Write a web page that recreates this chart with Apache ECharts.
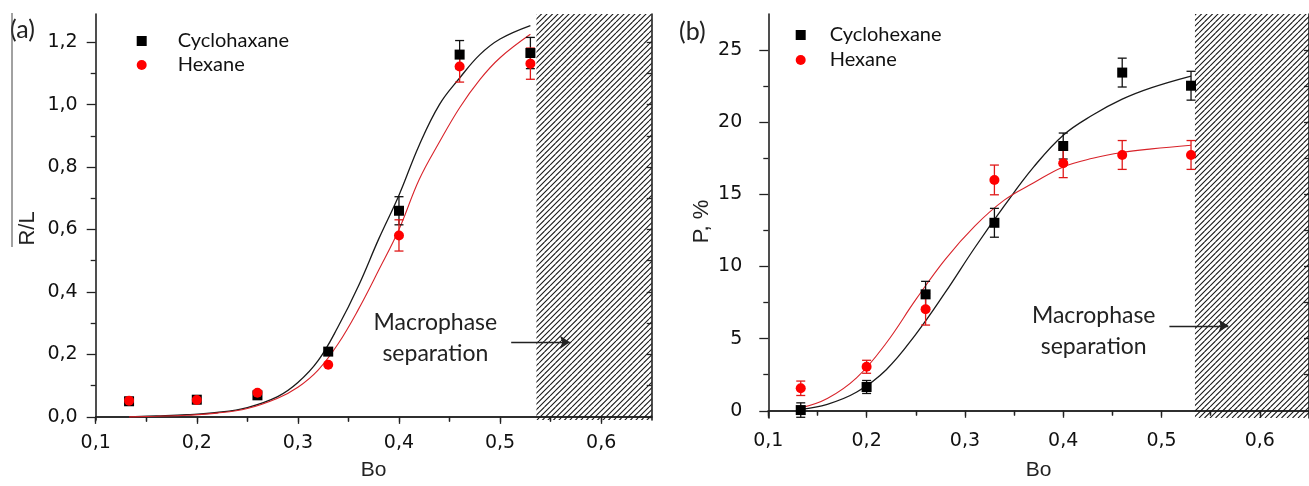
<!DOCTYPE html>
<html>
<head>
<meta charset="utf-8">
<script src="https://cdn.jsdelivr.net/npm/echarts@6/dist/echarts.min.js"></script>
<style>
  html, body { margin: 0; padding: 0; background: #fff; }
  #chart { width: 1309px; height: 486px; }
</style>
</head>
<body>
<div id="chart"></div>
<script>
var myChart = echarts.init(document.getElementById('chart'));

// measured points (both panels share the same Bo values)
var bo = [0.133, 0.2, 0.26, 0.33, 0.4, 0.46, 0.53];

// (a) R/L
var rlCyclo = [0.05, 0.055, 0.069, 0.209, 0.66, 1.16, 1.165];
var rlCycloErr = [0, 0, 0, 0, 0.045, 0.045, 0.05];
var rlHex = [0.052, 0.054, 0.077, 0.167, 0.581, 1.122, 1.131];
var rlHexErr = [0, 0, 0, 0, 0.05, 0.05, 0.05];

// (a) fitted curves
var fitBoA = [0.133, 0.16, 0.19, 0.22, 0.25, 0.28, 0.30, 0.32, 0.34, 0.36, 0.38, 0.40, 0.42, 0.44, 0.46, 0.48, 0.50, 0.53];
var fitRlCyclo = [0.0, 0.003, 0.007, 0.014, 0.03, 0.065, 0.11, 0.18, 0.29, 0.42, 0.57, 0.71, 0.87, 1.0, 1.085, 1.16, 1.21, 1.253];
var fitRlHex = [0.0, 0.002, 0.005, 0.012, 0.027, 0.06, 0.095, 0.15, 0.235, 0.345, 0.47, 0.6, 0.76, 0.88, 0.99, 1.08, 1.15, 1.225];

// (b) P, %
var pCyclo = [0.05, 1.65, 8.07, 13.03, 18.35, 23.44, 22.53];
var pCycloErr = [0.5, 0.45, 0.9, 1.0, 0.9, 1.0, 1.0];
var pHex = [1.56, 3.05, 7.04, 16.0, 17.16, 17.73, 17.73];
var pHexErr = [0.5, 0.45, 1.1, 1.03, 1.0, 1.0, 1.0];

// (b) fitted curves
var fitBoB = [0.133, 0.16, 0.19, 0.22, 0.25, 0.28, 0.31, 0.34, 0.37, 0.40, 0.43, 0.46, 0.49, 0.53];
var fitPCyclo = [0.1, 0.45, 1.3, 2.85, 5.3, 8.2, 11.3, 14.2, 16.9, 19.1, 20.5, 21.6, 22.4, 23.2];
var fitPHex = [0.2, 0.85, 2.3, 4.7, 7.7, 10.5, 12.8, 14.6, 15.8, 16.9, 17.5, 17.9, 18.15, 18.4];

// ticks
var boTicks = [0.1, 0.2, 0.3, 0.4, 0.5, 0.6];
var boMinor = [0.15, 0.25, 0.35, 0.45, 0.55];
var rlTicks = [0, 0.2, 0.4, 0.6, 0.8, 1.0, 1.2];
var rlMinor = [0.1, 0.3, 0.5, 0.7, 0.9, 1.1];
var pTicks = [0, 5, 10, 15, 20, 25];
var pMinor = [2.5, 7.5, 12.5, 17.5, 22.5];

// macrophase region start, arrow and note positions (data units)
var macroStart = [0.536, 0.534];
var arrowA = [[0.511, 0.239], [0.569, 0.239]];
var arrowB = [[0.508, 5.89], [0.568, 5.89]];
var noteA = [0.436, 0.251];
var noteB = [0.431, 5.49];

var AX = '#222';
var tickFont = 'DejaVu Sans';

function comma(v) { return v.toFixed(1).replace('.', ','); }
function pairs(xs, ys) { return xs.map(function (x, i) { return [x, ys[i]]; }); }
function errData(ys, es) {
  var out = [];
  bo.forEach(function (x, i) { if (es[i] > 0) out.push([x, ys[i] - es[i], ys[i] + es[i]]); });
  return out;
}

function hatch() {
  var c = document.createElement('canvas');
  c.width = 11; c.height = 11;
  var g = c.getContext('2d');
  g.strokeStyle = '#1a1a1a';
  g.lineWidth = 1.1;
  g.beginPath();
  [-11, -5.5, 0, 5.5, 11].forEach(function (k) { g.moveTo(k, 11); g.lineTo(k + 11, 0); });
  g.stroke();
  return c;
}
var hatchPattern = { image: hatch(), repeat: 'repeat' };

function renderErr(params, api) {
  var x = api.value(0);
  var lo = api.coord([x, api.value(1)]);
  var hi = api.coord([x, api.value(2)]);
  var w = 4.5;
  var st = { stroke: api.visual('color'), lineWidth: 1.3 };
  return {
    type: 'group',
    children: [
      { type: 'line', shape: { x1: lo[0], y1: lo[1], x2: hi[0], y2: hi[1] }, style: st },
      { type: 'line', shape: { x1: hi[0] - w, y1: hi[1], x2: hi[0] + w, y2: hi[1] }, style: st },
      { type: 'line', shape: { x1: lo[0] - w, y1: lo[1], x2: lo[0] + w, y2: lo[1] }, style: st }
    ]
  };
}

function xAxes(grid, nameGap) {
  return [
    {
      gridIndex: grid, type: 'value', position: 'bottom', min: 0.1, max: 0.65,
      name: 'Bo', nameLocation: 'middle', nameGap: nameGap,
      nameTextStyle: { fontSize: 21, fontFamily: 'Liberation Sans', color: '#222' },
      axisLine: { lineStyle: { color: AX, width: 1.6 } },
      axisTick: { customValues: boTicks, length: 7, lineStyle: { color: AX, width: 1.3 } },
      axisLabel: { customValues: boTicks, formatter: comma, margin: 14, fontSize: 19, fontFamily: tickFont, color: '#111' },
      splitLine: { show: false }
    },
    {
      gridIndex: grid, type: 'value', position: 'bottom', min: 0.1, max: 0.65,
      axisLine: { show: false },
      axisTick: { customValues: boMinor, length: 4, lineStyle: { color: AX, width: 1.3 } },
      axisLabel: { show: false },
      splitLine: { show: false }
    },
    {
      gridIndex: grid, type: 'value', position: 'top', min: 0.1, max: 0.65,
      axisLine: { lineStyle: { color: AX, width: 1.6 } },
      axisTick: { inside: true, customValues: boTicks.concat(boMinor), length: 5, lineStyle: { color: AX, width: 1.3 } },
      axisLabel: { show: false },
      splitLine: { show: false }
    }
  ];
}

function yAxes(grid, min, max, ticks, minor, fmt, name, nameGap, namePad, margin) {
  return [
    {
      gridIndex: grid, type: 'value', position: 'left', min: min, max: max,
      name: name, nameLocation: 'middle', nameGap: nameGap,
      nameTextStyle: { fontSize: 22, fontFamily: 'Liberation Sans', color: '#222', padding: [0, namePad, 0, 0] },
      axisLine: { lineStyle: { color: AX, width: 1.6 } },
      axisTick: { customValues: ticks, length: 9, lineStyle: { color: AX, width: 1.3 } },
      axisLabel: { customValues: ticks, formatter: fmt, margin: margin, fontSize: 19, fontFamily: tickFont, color: '#111' },
      splitLine: { show: false }
    },
    {
      gridIndex: grid, type: 'value', position: 'left', min: min, max: max,
      axisLine: { show: false },
      axisTick: { customValues: minor, length: 5, lineStyle: { color: AX, width: 1.3 } },
      axisLabel: { show: false },
      splitLine: { show: false }
    },
    {
      gridIndex: grid, type: 'value', position: 'right', min: min, max: max,
      axisLine: { lineStyle: { color: AX, width: 1.6 } },
      axisTick: { inside: true, customValues: ticks.concat(minor), length: 5, lineStyle: { color: AX, width: 1.3 } },
      axisLabel: { show: false },
      splitLine: { show: false }
    }
  ];
}

function panelSeries(xi, yi, names, cyc, cycErr, hex, hexErr, fitX, fitC, fitH, start, arrow, note) {
  return [
    {
      name: 'fit ' + names[0], type: 'line', xAxisIndex: xi, yAxisIndex: yi, z: 3,
      data: pairs(fitX, fitC), smooth: 0.4, showSymbol: false, silent: true,
      lineStyle: { color: '#1a1a1a', width: 1.3 },
      markArea: {
        silent: true,
        itemStyle: { color: hatchPattern, opacity: 1, borderWidth: 0 },
        data: [[{ xAxis: start }, { xAxis: 0.65 }]]
      }
    },
    {
      name: 'fit hex ' + names[0], type: 'line', xAxisIndex: xi, yAxisIndex: yi, z: 3,
      data: pairs(fitX, fitH), smooth: 0.4, showSymbol: false, silent: true,
      lineStyle: { color: '#d8232a', width: 1.1 }
    },
    {
      name: 'err ' + names[0], type: 'custom', xAxisIndex: xi, yAxisIndex: yi, z: 4,
      itemStyle: { color: '#111' }, renderItem: renderErr, data: errData(cyc, cycErr)
    },
    {
      name: 'err hex ' + names[0], type: 'custom', xAxisIndex: xi, yAxisIndex: yi, z: 4,
      itemStyle: { color: '#e01818' }, renderItem: renderErr, data: errData(hex, hexErr)
    },
    {
      name: names[0], type: 'scatter', xAxisIndex: xi, yAxisIndex: yi, z: 5,
      symbol: 'rect', symbolSize: 10, itemStyle: { color: '#000', opacity: 1 },
      data: pairs(bo, cyc),
      markLine: {
        silent: true, symbol: ['none', 'arrow'], symbolSize: 10,
        lineStyle: { color: '#222', width: 1.3, type: 'solid' },
        label: { show: false },
        data: [[{ coord: arrow[0] }, { coord: arrow[1] }]]
      },
      markPoint: {
        silent: true, symbol: 'rect', symbolSize: 0,
        label: {
          show: true, position: 'inside', formatter: 'Macrophase\nseparation',
          fontFamily: 'Lato', fontSize: 23, lineHeight: 31, color: '#222'
        },
        data: [{ coord: note }]
      }
    },
    {
      name: names[1], type: 'scatter', xAxisIndex: xi, yAxisIndex: yi, z: 5,
      symbol: 'circle', symbolSize: 10, itemStyle: { color: '#ff0000', opacity: 1 },
      data: pairs(bo, hex)
    }
  ];
}

function legendAt(left, top, names, pad, gap) {
  return {
    orient: 'vertical', left: left, top: top, padding: 0,
    itemWidth: 10, itemHeight: 10, itemGap: gap,
    selectedMode: false,
    data: [{ name: names[0], icon: 'rect' }, { name: names[1], icon: 'circle' }],
    textStyle: { fontFamily: 'Lato', fontSize: 20, color: '#111', padding: [0, 0, 0, pad] }
  };
}

var option = {
  animation: false,
  backgroundColor: '#fff',
  grid: [
    { left: 95.7, top: 14, width: 556, height: 408.7 },
    { left: 768.3, top: 14, width: 548.3, height: 406.7 }
  ],
  xAxis: xAxes(0, 40).concat(xAxes(1, 42)),
  yAxis: yAxes(0, -0.01, 1.29, rlTicks, rlMinor, comma, 'R/L', 57, 23, 18)
    .concat(yAxes(1, -0.5, 27.5, pTicks, pMinor, function (v) { return String(v); }, 'P, %', 55, 11, 26)),
  legend: [
    legendAt(136.7, 31, ['Cyclohaxane', 'Hexane'], 26, 4),
    legendAt(795.7, 25, ['Cyclohexane', 'Hexane'], 19, 5)
  ],
  graphic: [
    { type: 'text', left: 10, top: 17, style: { text: '(a)', fontFamily: 'Lato', fontSize: 25, fill: '#222' } },
    { type: 'text', left: 679, top: 19, style: { text: '(b)', fontFamily: 'Lato', fontSize: 25, fill: '#222' } },
    { type: 'line', shape: { x1: 12, y1: 13, x2: 12, y2: 247 }, style: { stroke: '#444', lineWidth: 1 } }
  ],
  series: panelSeries(0, 0, ['Cyclohaxane', 'Hexane'], rlCyclo, rlCycloErr, rlHex, rlHexErr,
      fitBoA, fitRlCyclo, fitRlHex, macroStart[0], arrowA, noteA)
    .concat(panelSeries(3, 3, ['Cyclohexane', 'Hexane'], pCyclo, pCycloErr, pHex, pHexErr,
      fitBoB, fitPCyclo, fitPHex, macroStart[1], arrowB, noteB))
};

myChart.setOption(option);
</script>
</body>
</html>
